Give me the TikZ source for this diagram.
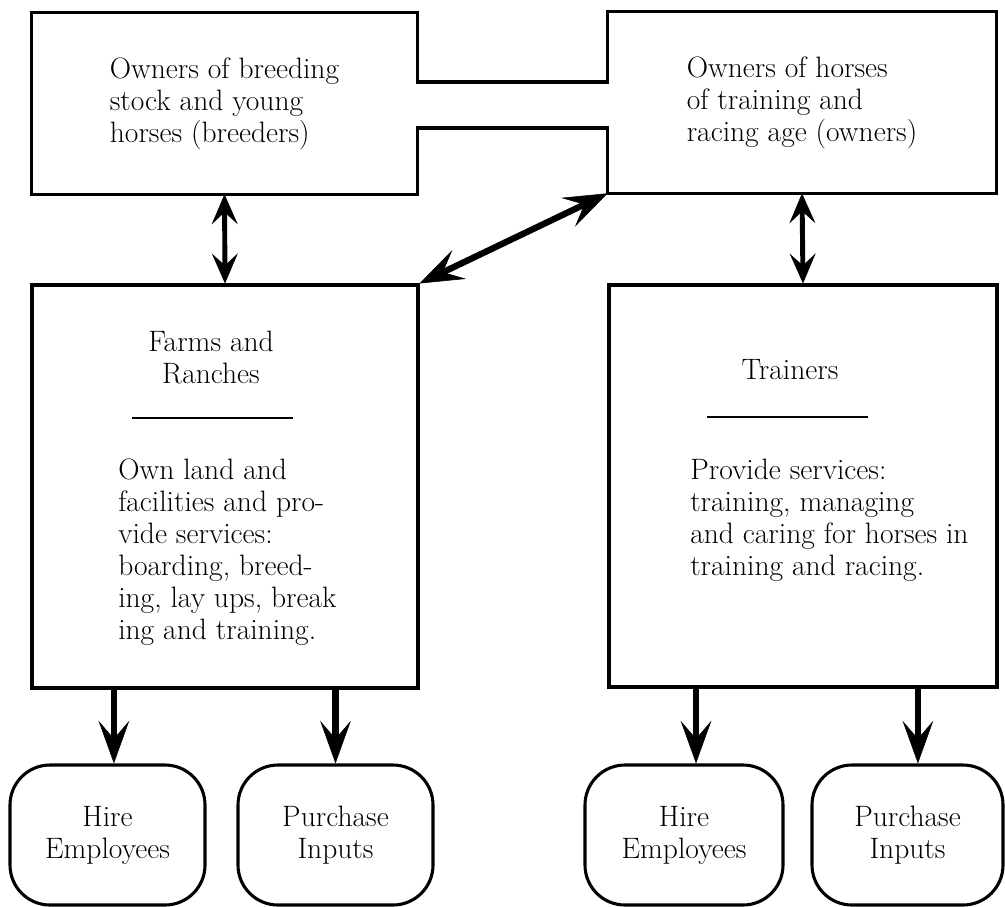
\documentclass[tikz,border=0pt]{standalone}
\usepackage{tikz}
\usetikzlibrary{arrows.meta}

\begin{document}
\begin{tikzpicture}[
    font=\fontsize{21}{22.8}\selectfont,
    owner/.style={
        rectangle,
        minimum height=4.525cm,
        inner sep=0pt,
        align=left
    },
    outline/.style={
        line width=2.2pt,
        line join=miter
    },
    business/.style={
        rectangle,
        draw=black,
        line width=2.2pt
    },
    heading/.style={
        align=center,
        inner sep=0pt
    },
    details/.style={
        anchor=base west,
        inner sep=0pt
    },
    divider/.style={
        line width=1.1pt
    },
    activity/.style={
        rectangle,
        rounded corners=1cm,
        draw=black,
        line width=2.2pt,
        minimum height=3.5cm,
        align=center
    },
    link/.style={
        line width=3.5pt,
        {Stealth[length=0.75cm,width=0.65cm,inset=0.3cm,line width=0.4pt]}-{Stealth[length=0.75cm,width=0.65cm,inset=0.3cm,line width=0.4pt]}
    },
    widelink/.style={
        line width=4.5pt,
        {Stealth[length=1.1cm,width=0.8cm,inset=0.45cm,line width=0.4pt]}-{Stealth[length=1.1cm,width=0.8cm,inset=0.45cm,line width=0.4pt]}
    },
    flow/.style={
        line width=4.5pt,
        -{Stealth[length=1.07cm,width=0.77cm,inset=0.45cm,line width=0.4pt]}
    }
]
\useasboundingbox (0,0) rectangle (25.125,-22.65);

% Owners (top row)
\node[owner, minimum width=9.625cm] (breeders) at (5.6125,-2.5875) {Owners of breeding\\stock and young\\horses (breeders)};
\node[owner, minimum width=9.7cm] (owners) at (20.05,-2.5625) {Owners of horses\\of training and\\racing age (owners)};

% channel between the two owner boxes
\coordinate (chantop) at (0,-2.05);
\coordinate (chanbot) at (0,-3.2);
\draw[outline] (breeders.south east) -- (breeders.south west) -- (breeders.north west)
    -- (breeders.north east) -- (breeders.east |- chantop) -- (owners.west |- chantop)
    -- (owners.north west) -- (owners.north east) -- (owners.south east)
    -- (owners.south west) -- (owners.west |- chanbot) -- (breeders.east |- chanbot) -- cycle;

% Farms and ranches
\node[business, minimum width=9.65cm, minimum height=10.075cm] (farms) at (5.625,-12.1625) {};
\node[heading] (farmsHead) at (5.275,-8.93) {Farms and\\Ranches};
\draw[divider] (3.3,-10.45) -- (7.325,-10.45);
\node[details] (farmsText) at (2.95,-11.98) {%
    \begin{tabular}[t]{@{}l@{}}
    Own land and\\
    facilities and pro-\\
    vide services:\\
    boarding, breed-\\
    ing, lay ups, break\\
    ing and training.
    \end{tabular}};

% Trainers
\node[business, minimum width=9.7cm, minimum height=10.05cm] (trainers) at (20.075,-12.15) {};
\node[heading] (trainersHead) at (19.75,-9.25) {Trainers};
\draw[divider] (17.675,-10.425) -- (21.7,-10.425);
\node[details] (trainersText) at (17.25,-11.98) {%
    \begin{tabular}[t]{@{}l@{}}
    Provide services:\\
    training, managing\\
    and caring for horses in\\
    training and racing.
    \end{tabular}};

% Activities
\node[activity, minimum width=4.875cm] (hireF) at (2.6875,-20.875) {Hire\\Employees};
\node[activity, minimum width=4.875cm] (buyF) at (8.3875,-20.875) {Purchase\\Inputs};
\node[activity, minimum width=4.95cm] (hireT) at (17.1,-20.875) {Hire\\Employees};
\node[activity, minimum width=4.775cm] (buyT) at (22.6875,-20.875) {Purchase\\Inputs};

% Two-way links
\draw[link] (breeders.south) -- (farms.north);
\draw[link] (owners.south) -- (trainers.north);
\draw[widelink] (farms.north east) -- (owners.south west);

% Flows down
\coordinate (hireFtop) at ([xshift=0.16cm]hireF.north);
\coordinate (buyFtop) at (buyF.north);
\coordinate (hireTtop) at ([xshift=0.3cm]hireT.north);
\coordinate (buyTtop) at ([xshift=0.26cm]buyT.north);
\draw[flow] (farms.south -| hireFtop) -- (hireFtop);
\draw[flow] (farms.south -| buyFtop) -- (buyFtop);
\draw[flow] (trainers.south -| hireTtop) -- (hireTtop);
\draw[flow] (trainers.south -| buyTtop) -- (buyTtop);

\end{tikzpicture}
\end{document}
